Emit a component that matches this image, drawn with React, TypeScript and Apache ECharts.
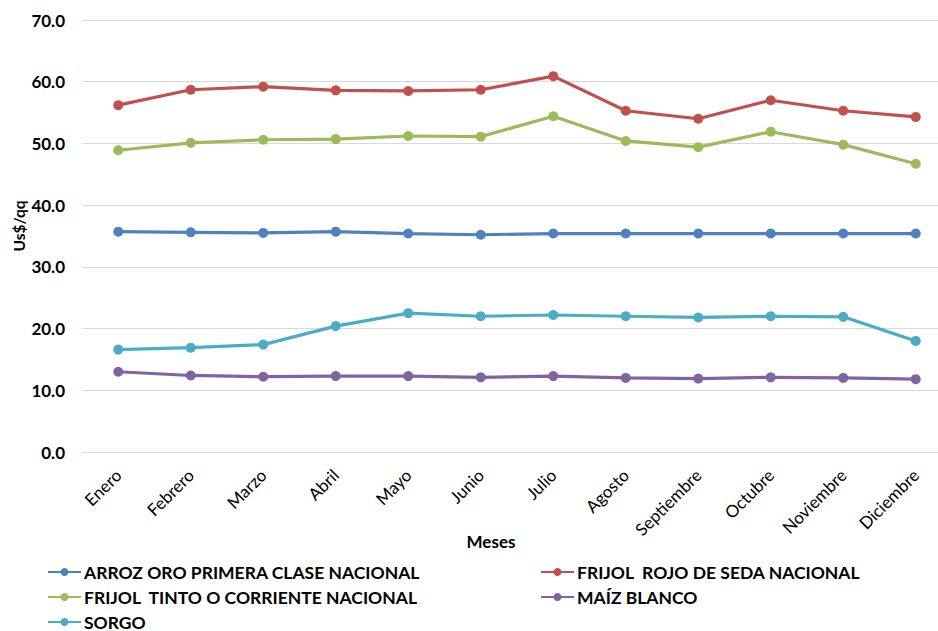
import React, { useEffect, useRef } from "react";
import * as echarts from "echarts";

const months = ["Enero", "Febrero", "Marzo", "Abril", "Mayo", "Junio", "Julio", "Agosto", "Septiembre", "Octubre", "Noviembre", "Diciembre"];
const arroz = [35.7, 35.6, 35.5, 35.7, 35.4, 35.2, 35.4, 35.4, 35.4, 35.4, 35.4, 35.4];
const frijolRojo = [56.2, 58.7, 59.2, 58.6, 58.5, 58.7, 60.9, 55.3, 54.0, 57.0, 55.3, 54.3];
const frijolTinto = [48.9, 50.1, 50.6, 50.7, 51.2, 51.1, 54.4, 50.4, 49.4, 51.9, 49.8, 46.7];
const maiz = [13.0, 12.4, 12.2, 12.3, 12.3, 12.1, 12.3, 12.0, 11.9, 12.1, 12.0, 11.8];
const sorgo = [16.6, 16.9, 17.4, 20.4, 22.5, 22.0, 22.2, 22.0, 21.8, 22.0, 21.9, 18.0];
const yTicks = [0, 10, 20, 30, 40, 50, 60, 70];

const seriesNames = [
  "ARROZ ORO PRIMERA CLASE NACIONAL",
  "FRIJOL  ROJO DE SEDA NACIONAL",
  "FRIJOL  TINTO O CORRIENTE NACIONAL",
  "MAÍZ BLANCO",
  "SORGO",
];
const seriesData = [arroz, frijolRojo, frijolTinto, maiz, sorgo];
const colors = ["#4F81BD", "#C0504D", "#9BBB59", "#8064A2", "#4BACC6"];

const FONT = "Lato, 'Open Sans', sans-serif";

export default function App() {
  const ref = useRef<HTMLDivElement>(null);
  useEffect(() => {
    if (!ref.current) return;
    const chart = echarts.init(ref.current, undefined, { renderer: "svg" });
    const legendPos = [
      { left: 47, top: 563 },
      { left: 540, top: 563 },
      { left: 47, top: 588 },
      { left: 540, top: 588 },
      { left: 47, top: 613 },
    ];
    chart.setOption({
      animation: false,
      backgroundColor: "#ffffff",
      color: colors,
      textStyle: { fontFamily: FONT },
      grid: { left: 82, top: 20, width: 870, height: 432, containLabel: false, outerBoundsMode: "none" },
      legend: seriesNames.map((n, i) => ({
        data: [n],
        left: legendPos[i].left,
        top: legendPos[i].top,
        itemWidth: 33,
        itemHeight: 10,
        itemGap: 4,
        padding: 0,
        textStyle: { fontFamily: FONT, fontSize: 17.5, fontWeight: "bold", color: "#000", padding: [0, 0, 0, -2] },
      })),
      graphic: [
        {
          type: "text",
          x: 491,
          y: 541,
          style: { text: "Meses", fontFamily: FONT, fontSize: 17, fontWeight: "bold", fill: "#000", textAlign: "center", textVerticalAlign: "middle" },
        },
        {
          type: "text",
          x: 19,
          y: 226,
          rotation: Math.PI / 2,
          style: { text: "Us$/qq", fontFamily: FONT, fontSize: 15.5, fontWeight: "bold", fill: "#000", textAlign: "center", textVerticalAlign: "middle" },
        },
      ],
      xAxis: {
        type: "category",
        data: months,
        boundaryGap: true,
        axisLine: { show: true, lineStyle: { color: "#D9D9D9", width: 1 } },
        axisTick: { show: false },
        axisLabel: { rotate: 45, fontSize: 17, color: "#000", fontFamily: FONT, margin: 20, interval: 0 },
      },
      yAxis: {
        type: "value",
        min: yTicks[0],
        max: yTicks[yTicks.length - 1],
        interval: 10,
        axisLine: { show: false },
        axisTick: { show: false },
        splitLine: { lineStyle: { color: "#D9D9D9", width: 1 } },
        axisLabel: {
          fontSize: 17,
          fontWeight: "bold",
          color: "#000",
          fontFamily: FONT,
          margin: 17,
          formatter: (v: number) => v.toFixed(1),
        },
      },
      series: seriesNames.map((n, i) => ({
        name: n,
        type: "line",
        data: seriesData[i],
        symbol: "circle",
        symbolSize: 10,
        lineStyle: { width: 3.2, color: colors[i] },
        itemStyle: { color: colors[i] },
      })),
    });
    return () => chart.dispose();
  }, []);
  return (
    <div
      ref={ref}
      style={{ position: "fixed", left: 0, top: 0, width: 938, height: 631, background: "#fff" }}
    />
  );
}
